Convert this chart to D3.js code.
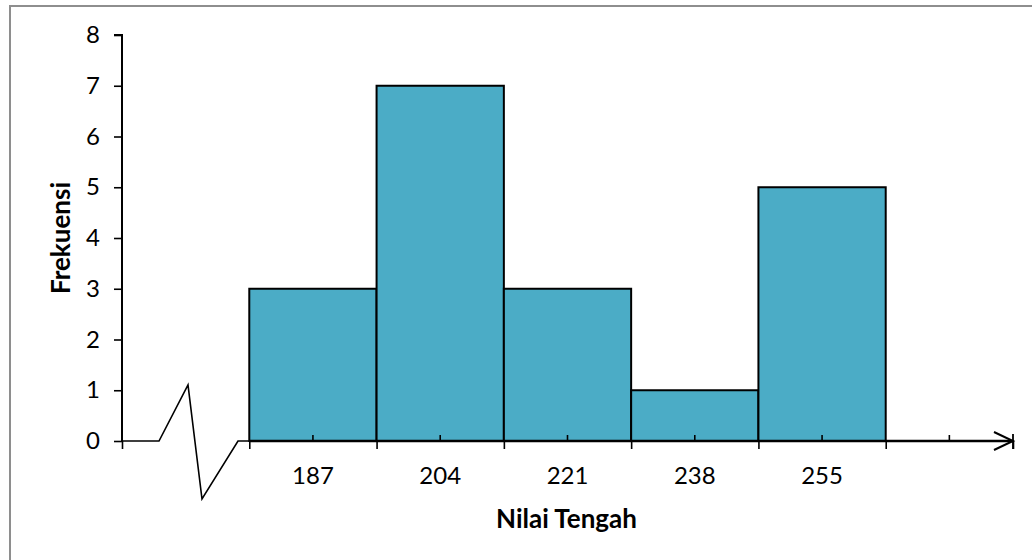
<!DOCTYPE html>
<html>
<head>
<meta charset="utf-8">
<script src="https://cdn.jsdelivr.net/npm/d3@7"></script>
<style>
  html, body { margin: 0; padding: 0; background: #fff; }
  svg { display: block; }
  text { font-family: Lato, "Open Sans", sans-serif; fill: #000; }
</style>
</head>
<body>
<svg id="chart" width="1032" height="560"></svg>
<script>
// Class midpoints (Nilai Tengah) and their frequencies
const midpoints = ["187", "204", "221", "238", "255"];
const frequencies = [3, 7, 3, 1, 5];
// Category slots: an empty slot before (axis break) and one after the classes
const slots = ["", ...midpoints, ""];
const yTicks = [0, 1, 2, 3, 4, 5, 6, 7, 8];

const svg = d3.select("#chart");
const plotLeft = 122, plotRight = 1013, plotTop = 35, plotBottom = 441;

// Outer frame
svg.append("rect")
  .attr("x", 10).attr("y", 6)
  .attr("width", 1040).attr("height", 580)
  .attr("fill", "none").attr("stroke", "#8e8e8e").attr("stroke-width", 2);

const x = d3.scaleBand().domain(d3.range(slots.length)).range([plotLeft, plotRight]).padding(0);
const xEdge = d3.scaleLinear().domain([0, slots.length]).range([plotLeft, plotRight]);
const y = d3.scaleLinear().domain([0, 8]).range([plotBottom, plotTop]);

// Histogram bars (no gap between classes)
svg.append("g").selectAll("rect")
  .data(frequencies)
  .join("rect")
  .attr("x", (d, i) => x(i + 1))
  .attr("y", d => y(d))
  .attr("width", x.bandwidth())
  .attr("height", d => y(0) - y(d))
  .attr("fill", "#4BACC6")
  .attr("stroke", "#000")
  .attr("stroke-width", 2);

// Y axis
const yAxis = svg.append("g")
  .attr("transform", `translate(${plotLeft},0)`)
  .call(d3.axisLeft(y).tickValues(yTicks).tickFormat(d3.format("d")).tickSize(8).tickPadding(14));
yAxis.select(".domain").attr("d", `M-8,${plotTop}H0V${plotBottom}`).attr("stroke-width", 2);
yAxis.selectAll(".tick line").attr("stroke-width", 1.6);
yAxis.selectAll("text").attr("font-size", 24).attr("font-family", "Lato, sans-serif");

// X axis: class boundaries (ticks below the line)
const xEdges = svg.append("g")
  .attr("transform", `translate(0,${plotBottom})`)
  .call(d3.axisBottom(xEdge).tickValues(d3.range(0, slots.length + 1)).tickFormat("").tickSize(8));
xEdges.select(".domain").remove();
xEdges.selectAll(".tick line").attr("stroke-width", 1.6);

// X axis: midpoint labels with small inner ticks
const xAxis = svg.append("g")
  .attr("transform", `translate(0,${plotBottom})`)
  .call(d3.axisBottom(x).tickFormat(i => slots[i]).tickSizeInner(-6).tickSizeOuter(0).tickPadding(26));
xAxis.select(".domain").remove();
xAxis.selectAll(".tick").filter(i => i === 0).select("line").remove();
xAxis.selectAll(".tick line").attr("stroke-width", 1.6);
xAxis.selectAll("text").attr("font-size", 24).attr("font-family", "Lato, sans-serif");

// Axis line with the break zig-zag near the origin and an arrow at the end
const axisLine = d3.line();
const b0 = xEdge(0), b1 = xEdge(1);
svg.append("path")
  .attr("d", axisLine([[b0, plotBottom], [b0 + 37, plotBottom], [b0 + 66, plotBottom - 56], [b0 + 80, plotBottom + 58], [b0 + 116, plotBottom], [b1, plotBottom]]))
  .attr("fill", "none").attr("stroke", "#000").attr("stroke-width", 1.6).attr("stroke-linejoin", "miter");
svg.append("path")
  .attr("d", axisLine([[b1, plotBottom], [plotRight, plotBottom]]))
  .attr("fill", "none").attr("stroke", "#000").attr("stroke-width", 2.4);
svg.append("path")
  .attr("d", axisLine([[plotRight - 19, plotBottom - 9], [plotRight, plotBottom], [plotRight - 19, plotBottom + 9]]))
  .attr("fill", "none").attr("stroke", "#000").attr("stroke-width", 2);
svg.append("path")
  .attr("d", axisLine([[plotRight, plotBottom - 7], [plotRight, plotBottom + 8]]))
  .attr("fill", "none").attr("stroke", "#000").attr("stroke-width", 1.8);

// Axis titles
svg.append("text")
  .attr("x", (plotLeft + plotRight) / 2 - 1).attr("y", 528)
  .attr("text-anchor", "middle")
  .attr("font-size", 26).attr("font-weight", "bold")
  .text("Nilai Tengah");
svg.append("text")
  .attr("transform", `translate(70,${(plotTop + plotBottom) / 2}) rotate(-90)`)
  .attr("text-anchor", "middle")
  .attr("font-size", 26).attr("font-weight", "bold")
  .text("Frekuensi");
</script>
</body>
</html>
